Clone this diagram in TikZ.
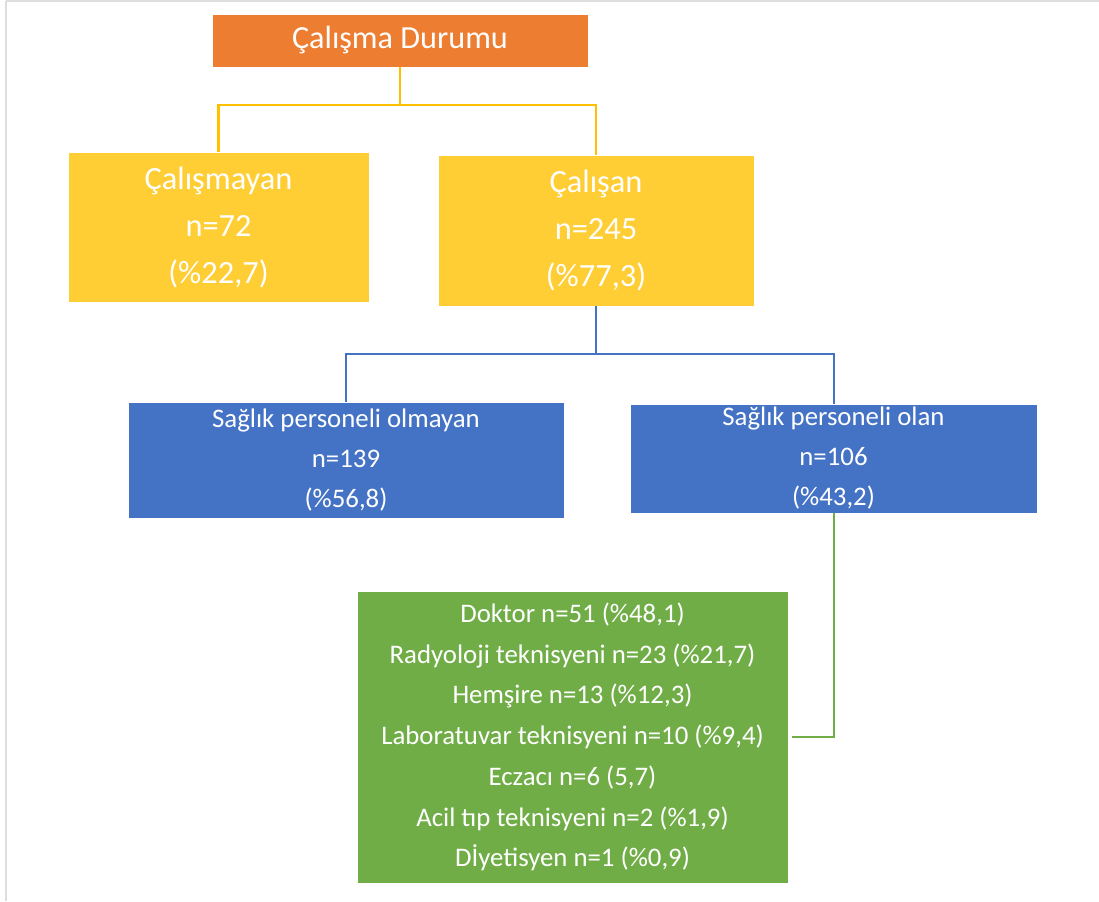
\documentclass[tikz,border=0pt]{standalone}
\usepackage{fontspec}
\setmainfont{Carlito}
\usepackage{tikz}
\usetikzlibrary{positioning,calc}
\usepackage{xcolor}
\definecolor{topturuncu}{RGB}{237,125,49}
\definecolor{sarikutu}{RGB}{255,205,52}
\definecolor{sarihat}{RGB}{255,192,0}
\definecolor{mavikutu}{RGB}{68,114,196}
\definecolor{yesilkutu}{RGB}{112,173,71}
\definecolor{kenargri}{RGB}{222,222,222}

\begin{document}
\begin{tikzpicture}[x=0.5pt, y=-0.5pt,
    kutu/.style={inner sep=0pt, align=center, text=white, draw=white, line width=0.4pt},
    ustkutu/.style={kutu, fill=topturuncu, font=\fontsize{16.1}{19}\selectfont},
    sarikt/.style={kutu, fill=sarikutu, font=\fontsize{16.2}{23.5}\selectfont},
    mavikt/.style={kutu, fill=mavikutu, font=\fontsize{13.4}{20}\selectfont},
    yesilkt/.style={kutu, fill=yesilkutu, font=\fontsize{13.4}{20.35}\selectfont},
    sarihat/.style={draw=sarihat, line width=1.3pt},
    mavihat/.style={draw=mavikutu, line width=1pt},
    yesilhat/.style={draw=yesilkutu, line width=1pt}
]
\useasboundingbox (0,0) rectangle (1099,901);
\draw[kenargri, line width=1pt] (6,1) -- (1099,1);
\draw[kenargri, line width=1pt] (6,1) -- (6,901);

\node[ustkutu, minimum width=188pt, minimum height=26.5pt] (durum) at (400,40.5) {Çalışma Durumu};
\node[sarikt, minimum width=150.5pt, minimum height=75pt] (calismayan) at (218.5,227) {Çalışmayan\\n=72\\(\%22,7)};
\node[sarikt, minimum width=158pt, minimum height=75.5pt] (calisan) at (596,230.5) {Çalışan\\n=245\\(\%77,3)};
\node[mavikt, minimum width=218pt, minimum height=58pt] (saglikyok) at (346,460) {Sağlık personeli olmayan\\n=139\\(\%56,8)};
\node[mavikt, minimum width=203.5pt, minimum height=54.5pt] (saglikvar) at (833.5,458.5) {Sağlık personeli olan\\n=106\\(\%43,2)};
\node[yesilkt, minimum width=215.5pt, minimum height=146pt] (meslek) at (572.5,737) {Doktor n=51 (\%48,1)\\Radyoloji teknisyeni n=23 (\%21,7)\\Hemşire n=13 (\%12,3)\\Laboratuvar teknisyeni n=10 (\%9,4)\\Eczacı n=6 (5,7)\\Acil tıp teknisyeni n=2 (\%1,9)\\Dİyetisyen n=1 (\%0,9)};

\coordinate (ayrim1) at (400,105);
\coordinate (ayrim2) at (596,354);

\draw[sarihat] (durum.south) -- (ayrim1) -| (calismayan.north);
\draw[sarihat] (ayrim1) -| (calisan.north);
\draw[mavihat] (calisan.south) -- (ayrim2) -| (saglikyok.north);
\draw[mavihat] (ayrim2) -| (saglikvar.north);
\draw[yesilhat] (saglikvar.south) |- ([xshift=2pt]meslek.east);
\end{tikzpicture}
\end{document}
